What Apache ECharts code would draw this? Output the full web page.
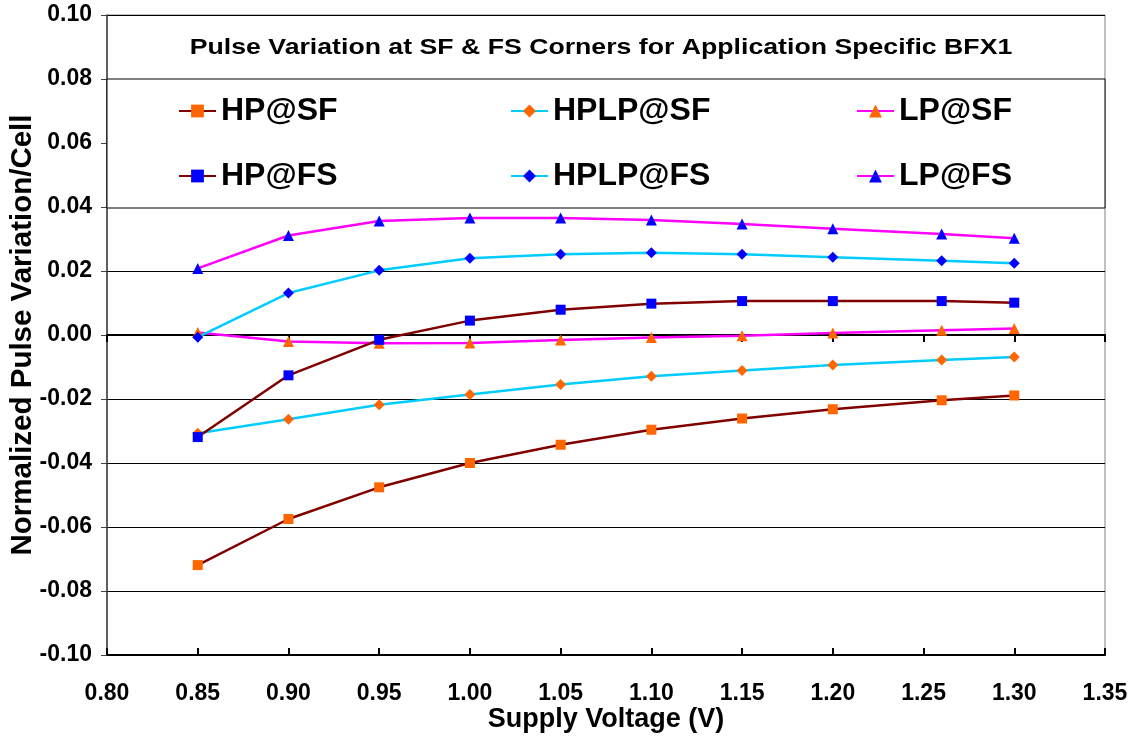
<!DOCTYPE html>
<html><head><meta charset="utf-8">
<script src="https://cdn.jsdelivr.net/npm/echarts@6/dist/echarts.min.js"></script>
<style>html,body{margin:0;padding:0;background:#fff}#c{width:1137px;height:738px}</style>
</head><body><div id="c"></div>
<script>
const voltages = [0.85,0.90,0.95,1.00,1.05,1.10,1.15,1.20,1.26,1.30];
const HP_SF   = [-0.0719,-0.0575,-0.0476,-0.0400,-0.0343,-0.0296,-0.0261,-0.0232,-0.0204,-0.0189];
const HPLP_SF = [-0.0307,-0.0263,-0.0218,-0.0186,-0.0155,-0.0129,-0.0111,-0.0094,-0.0078,-0.0069];
const LP_SF   = [0.0008,-0.0020,-0.0026,-0.0025,-0.0016,-0.0008,-0.0002,0.0006,0.0015,0.0020];
const HP_FS   = [-0.0319,-0.0126,-0.0015,0.0045,0.0079,0.0098,0.0106,0.0106,0.0106,0.0101];
const HPLP_FS = [-0.0007,0.0131,0.0202,0.0240,0.0252,0.0257,0.0252,0.0243,0.0232,0.0224];
const LP_FS   = [0.0208,0.0311,0.0356,0.0366,0.0366,0.0359,0.0347,0.0332,0.0316,0.0302];
const seriesNames = ['HP@SF','HPLP@SF','LP@SF','HP@FS','HPLP@FS','LP@FS'];
const titleText = 'Pulse Variation at SF & FS Corners for Application Specific BFX1';
const xTitle = 'Supply Voltage (V)';
const yTitle = 'Normalized Pulse Variation/Cell';

const FONT = '"Liberation Sans", Arial, Helvetica, sans-serif';
const lineColors = {HP:'#800000', HPLP:'#00CCFF', LP:'#FF00FF'};
const markColors = {SF:'#FF6600', FS:'#0000FF'};
const shapes = {HP:'rect', HPLP:'diamond', LP:'triangle'};
const sizes = {HP:10, HPLP:11, LP:11};
const values = {'HP@SF':HP_SF,'HPLP@SF':HPLP_SF,'LP@SF':LP_SF,'HP@FS':HP_FS,'HPLP@FS':HPLP_FS,'LP@FS':LP_FS};

const series = seriesNames.map(n => {
  const [kind, corner] = n.split('@');
  return {
    name: n, type: 'line',
    data: voltages.map((v,i)=>[v, values[n][i]]),
    symbol: shapes[kind], symbolSize: sizes[kind],
    lineStyle: {color: lineColors[kind], width: 2.5},
    itemStyle: {color: markColors[corner], borderWidth: 0},
    color: markColors[corner],
    z: 3
  };
});

const chart = echarts.init(document.getElementById('c'));
const legendBase = {
  orient: 'vertical', top: 95, itemGap: 33, itemWidth: 37, itemHeight: 16, padding: 0,
  textStyle: {fontFamily: FONT, fontWeight: 'bold', fontSize: 32, lineHeight: 32, color: '#000'},
  z: 10
};
chart.setOption({
  animation: false,
  grid: {left: 107, top: 15, width: 998, height: 640, show: true, borderColor: '#808080', borderWidth: 1,
    backgroundColor: '#fff', containLabel: false, outerBoundsMode: 'none'},
  graphic: [
    {type: 'rect', shape: {x: 107, y: 79, width: 998, height: 129},
     style: {fill: '#fff', stroke: '#000', lineWidth: 1}, z: 5},
    {type: 'text', x: 601, y: 48, originX: 0, originY: 0, scaleX: 1.27, scaleY: 1.04, z: 6,
     style: {text: titleText, font: 'bold 21px ' + FONT, fill: '#000', align: 'center', verticalAlign: 'middle'}}
  ],
  legend: [
    Object.assign({}, legendBase, {left: 178, data: ['HP@SF','HP@FS']}),
    Object.assign({}, legendBase, {left: 510, data: ['HPLP@SF','HPLP@FS']}),
    Object.assign({}, legendBase, {left: 856, data: ['LP@SF','LP@FS']})
  ],
  xAxis: [
    {type: 'value', min: 0.8, max: 1.35, interval: 0.05, position: 'bottom',
     axisLine: {onZero: false, show: false}, axisTick: {show: false}, splitLine: {show: false},
     axisLabel: {formatter: v => v.toFixed(2), fontFamily: FONT, fontWeight: 'bold', fontSize: 23, color: '#000', margin: 27},
     name: xTitle, nameLocation: 'middle', nameGap: 51, nameMoveOverlap: false,
     nameTextStyle: {fontFamily: FONT, fontWeight: 'bold', fontSize: 27, color: '#000'}},
    {type: 'value', min: 0.8, max: 1.35, interval: 0.05, position: 'bottom',
     axisLine: {onZero: true, lineStyle: {color: '#000', width: 2}},
     axisTick: {show: true, inside: false, length: 7, lineStyle: {color: '#000', width: 2}},
     axisLabel: {show: false}, splitLine: {show: false}},
    {type: 'value', min: 0.8, max: 1.35, interval: 0.05, position: 'bottom',
     axisLine: {onZero: true, lineStyle: {color: '#000', width: 2}},
     axisTick: {show: true, inside: true, length: 7, lineStyle: {color: '#000', width: 2}},
     axisLabel: {show: false}, splitLine: {show: false}}
  ],
  yAxis: {type: 'value', min: -0.1, max: 0.1, interval: 0.02,
    axisLine: {show: true, lineStyle: {color: '#404040', width: 1.5}},
    axisTick: {show: true, length: 6, lineStyle: {color: '#404040'}},
    splitLine: {show: true, lineStyle: {color: '#000', width: 1}},
    axisLabel: {formatter: v => v.toFixed(2), fontFamily: FONT, fontWeight: 'bold', fontSize: 23, color: '#000', margin: 15},
    name: yTitle, nameLocation: 'middle', nameGap: 69, nameMoveOverlap: false,
    nameTextStyle: {fontFamily: FONT, fontWeight: 'bold', fontSize: 29.5, color: '#000'}},
  series: series
});
</script></body></html>
